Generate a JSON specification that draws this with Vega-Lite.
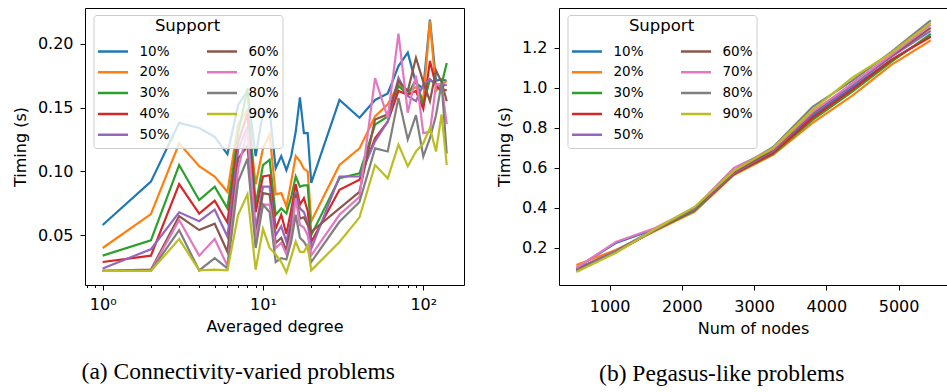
{
  "$schema": "https://vega.github.io/schema/vega-lite/v6.json",
  "padding": {"left": 11, "top": 7, "right": 0, "bottom": 0},
  "autosize": {"type": "pad"},
  "background": "white",
  "config": {
    "font": "DejaVu Sans",
    "view": {"stroke": "black", "strokeWidth": 1},
    "concat": {"spacing": 31},
    "axis": {"grid": false, "domain": false, "tickColor": "black", "tickSize": 5, "tickWidth": 1, "labelFontSize": 16, "labelColor": "black", "labelFont": "DejaVu Sans", "titleFont": "DejaVu Sans", "titleFontSize": 16, "titleFontWeight": "normal", "titleColor": "black", "labelPadding": 7, "titlePadding": 9, "labelFlush": false, "labelOverlap": false},
    "axisX": {"titlePadding": 6, "labelPadding": 8},
    "legend": {"orient": "none", "legendX": 8.5, "legendY": 7, "columns": 2, "symbolType": "stroke", "symbolSize": 900, "symbolStrokeWidth": 2.5, "clipHeight": 20, "rowPadding": 0.8, "columnPadding": 35, "labelOffset": 10, "labelFontSize": 13.5, "labelFont": "DejaVu Sans", "labelColor": "black", "titleFont": "DejaVu Sans", "titleFontSize": 16.5, "titleFontWeight": "normal", "titleColor": "black", "titleAnchor": "middle", "titlePadding": 7, "padding": 3, "fillColor": "rgba(255,255,255,0.8)", "strokeColor": "#cccccc", "cornerRadius": 3}
  },
  "resolve": {"scale": {"color": "independent"}, "legend": {"color": "independent"}},
  "datasets": {
    "a": [
      {"s":"10%","d":1,"t":0.058},{"s":"10%","d":2,"t":0.092},{"s":"10%","d":3,"t":0.138},{"s":"10%","d":4,"t":0.134},{"s":"10%","d":5,"t":0.127},{"s":"10%","d":6,"t":0.1135},{"s":"10%","d":7,"t":0.152},{"s":"10%","d":8,"t":0.163},{"s":"10%","d":9,"t":0.112},{"s":"10%","d":10,"t":0.146},{"s":"10%","d":11,"t":0.147},{"s":"10%","d":12,"t":0.1025},{"s":"10%","d":13,"t":0.112},{"s":"10%","d":14,"t":0.101},{"s":"10%","d":15,"t":0.112},{"s":"10%","d":16,"t":0.131},{"s":"10%","d":17,"t":0.158},{"s":"10%","d":18,"t":0.130},{"s":"10%","d":19,"t":0.130},{"s":"10%","d":20,"t":0.091},{"s":"10%","d":30,"t":0.156},{"s":"10%","d":40,"t":0.142},{"s":"10%","d":50,"t":0.156},{"s":"10%","d":60,"t":0.161},{"s":"10%","d":70,"t":0.1825},{"s":"10%","d":80,"t":0.193},{"s":"10%","d":90,"t":0.169},{"s":"10%","d":100,"t":0.165},{"s":"10%","d":110,"t":0.219},{"s":"10%","d":120,"t":0.171},{"s":"10%","d":130,"t":0.172},{"s":"10%","d":140,"t":0.171},
      {"s":"20%","d":1,"t":0.040},{"s":"20%","d":2,"t":0.0665},{"s":"20%","d":3,"t":0.122},{"s":"20%","d":4,"t":0.104},{"s":"20%","d":5,"t":0.096},{"s":"20%","d":6,"t":0.084},{"s":"20%","d":7,"t":0.137},{"s":"20%","d":8,"t":0.148},{"s":"20%","d":9,"t":0.090},{"s":"20%","d":10,"t":0.118},{"s":"20%","d":11,"t":0.129},{"s":"20%","d":12,"t":0.082},{"s":"20%","d":13,"t":0.083},{"s":"20%","d":14,"t":0.0725},{"s":"20%","d":15,"t":0.092},{"s":"20%","d":16,"t":0.112},{"s":"20%","d":17,"t":0.108},{"s":"20%","d":18,"t":0.102},{"s":"20%","d":19,"t":0.100},{"s":"20%","d":20,"t":0.061},{"s":"20%","d":30,"t":0.105},{"s":"20%","d":40,"t":0.118},{"s":"20%","d":50,"t":0.143},{"s":"20%","d":60,"t":0.1525},{"s":"20%","d":70,"t":0.168},{"s":"20%","d":80,"t":0.163},{"s":"20%","d":90,"t":0.166},{"s":"20%","d":100,"t":0.156},{"s":"20%","d":110,"t":0.218},{"s":"20%","d":120,"t":0.163},{"s":"20%","d":130,"t":0.168},{"s":"20%","d":140,"t":0.171},
      {"s":"30%","d":1,"t":0.034},{"s":"30%","d":2,"t":0.046},{"s":"30%","d":3,"t":0.105},{"s":"30%","d":4,"t":0.0776},{"s":"30%","d":5,"t":0.088},{"s":"30%","d":6,"t":0.071},{"s":"30%","d":7,"t":0.130},{"s":"30%","d":8,"t":0.165},{"s":"30%","d":9,"t":0.074},{"s":"30%","d":10,"t":0.105},{"s":"30%","d":11,"t":0.109},{"s":"30%","d":12,"t":0.066},{"s":"30%","d":13,"t":0.071},{"s":"30%","d":14,"t":0.067},{"s":"30%","d":15,"t":0.080},{"s":"30%","d":16,"t":0.096},{"s":"30%","d":17,"t":0.088},{"s":"30%","d":18,"t":0.089},{"s":"30%","d":19,"t":0.089},{"s":"30%","d":20,"t":0.050},{"s":"30%","d":30,"t":0.0946},{"s":"30%","d":40,"t":0.0985},{"s":"30%","d":50,"t":0.1366},{"s":"30%","d":60,"t":0.143},{"s":"30%","d":70,"t":0.167},{"s":"30%","d":80,"t":0.160},{"s":"30%","d":90,"t":0.172},{"s":"30%","d":100,"t":0.152},{"s":"30%","d":110,"t":0.172},{"s":"30%","d":120,"t":0.168},{"s":"30%","d":130,"t":0.168},{"s":"30%","d":140,"t":0.185},
      {"s":"40%","d":1,"t":0.029},{"s":"40%","d":2,"t":0.034},{"s":"40%","d":3,"t":0.090},{"s":"40%","d":4,"t":0.067},{"s":"40%","d":5,"t":0.077},{"s":"40%","d":6,"t":0.060},{"s":"40%","d":7,"t":0.123},{"s":"40%","d":8,"t":0.145},{"s":"40%","d":9,"t":0.068},{"s":"40%","d":10,"t":0.096},{"s":"40%","d":11,"t":0.097},{"s":"40%","d":12,"t":0.055},{"s":"40%","d":13,"t":0.066},{"s":"40%","d":14,"t":0.051},{"s":"40%","d":15,"t":0.070},{"s":"40%","d":16,"t":0.090},{"s":"40%","d":17,"t":0.074},{"s":"40%","d":18,"t":0.079},{"s":"40%","d":19,"t":0.069},{"s":"40%","d":20,"t":0.0447},{"s":"40%","d":30,"t":0.0856},{"s":"40%","d":40,"t":0.0934},{"s":"40%","d":50,"t":0.126},{"s":"40%","d":60,"t":0.139},{"s":"40%","d":70,"t":0.163},{"s":"40%","d":80,"t":0.160},{"s":"40%","d":90,"t":0.163},{"s":"40%","d":100,"t":0.149},{"s":"40%","d":110,"t":0.1865},{"s":"40%","d":120,"t":0.167},{"s":"40%","d":130,"t":0.163},{"s":"40%","d":140,"t":0.164},
      {"s":"50%","d":1,"t":0.024},{"s":"50%","d":2,"t":0.039},{"s":"50%","d":3,"t":0.068},{"s":"50%","d":4,"t":0.061},{"s":"50%","d":5,"t":0.070},{"s":"50%","d":6,"t":0.049},{"s":"50%","d":7,"t":0.117},{"s":"50%","d":8,"t":0.135},{"s":"50%","d":9,"t":0.055},{"s":"50%","d":10,"t":0.088},{"s":"50%","d":11,"t":0.088},{"s":"50%","d":12,"t":0.050},{"s":"50%","d":13,"t":0.057},{"s":"50%","d":14,"t":0.045},{"s":"50%","d":15,"t":0.062},{"s":"50%","d":16,"t":0.084},{"s":"50%","d":17,"t":0.071},{"s":"50%","d":18,"t":0.068},{"s":"50%","d":19,"t":0.060},{"s":"50%","d":20,"t":0.0395},{"s":"50%","d":30,"t":0.096},{"s":"50%","d":40,"t":0.096},{"s":"50%","d":50,"t":0.1235},{"s":"50%","d":60,"t":0.139},{"s":"50%","d":70,"t":0.1733},{"s":"50%","d":80,"t":0.159},{"s":"50%","d":90,"t":0.155},{"s":"50%","d":100,"t":0.168},{"s":"50%","d":110,"t":0.172},{"s":"50%","d":120,"t":0.168},{"s":"50%","d":130,"t":0.167},{"s":"50%","d":140,"t":0.168},
      {"s":"60%","d":1,"t":0.022},{"s":"60%","d":2,"t":0.023},{"s":"60%","d":3,"t":0.065},{"s":"60%","d":4,"t":0.054},{"s":"60%","d":5,"t":0.059},{"s":"60%","d":6,"t":0.037},{"s":"60%","d":7,"t":0.110},{"s":"60%","d":8,"t":0.120},{"s":"60%","d":9,"t":0.050},{"s":"60%","d":10,"t":0.083},{"s":"60%","d":11,"t":0.082},{"s":"60%","d":12,"t":0.044},{"s":"60%","d":13,"t":0.048},{"s":"60%","d":14,"t":0.038},{"s":"60%","d":15,"t":0.058},{"s":"60%","d":16,"t":0.082},{"s":"60%","d":17,"t":0.063},{"s":"60%","d":18,"t":0.064},{"s":"60%","d":19,"t":0.058},{"s":"60%","d":20,"t":0.0526},{"s":"60%","d":30,"t":0.071},{"s":"60%","d":40,"t":0.084},{"s":"60%","d":50,"t":0.1407},{"s":"60%","d":60,"t":0.1447},{"s":"60%","d":70,"t":0.1707},{"s":"60%","d":80,"t":0.163},{"s":"60%","d":90,"t":0.189},{"s":"60%","d":100,"t":0.170},{"s":"60%","d":110,"t":0.155},{"s":"60%","d":120,"t":0.179},{"s":"60%","d":130,"t":0.170},{"s":"60%","d":140,"t":0.155},
      {"s":"70%","d":1,"t":0.022},{"s":"70%","d":2,"t":0.022},{"s":"70%","d":3,"t":0.062},{"s":"70%","d":4,"t":0.034},{"s":"70%","d":5,"t":0.047},{"s":"70%","d":6,"t":0.026},{"s":"70%","d":7,"t":0.102},{"s":"70%","d":8,"t":0.132},{"s":"70%","d":9,"t":0.048},{"s":"70%","d":10,"t":0.074},{"s":"70%","d":11,"t":0.074},{"s":"70%","d":12,"t":0.040},{"s":"70%","d":13,"t":0.044},{"s":"70%","d":14,"t":0.035},{"s":"70%","d":15,"t":0.050},{"s":"70%","d":16,"t":0.079},{"s":"70%","d":17,"t":0.058},{"s":"70%","d":18,"t":0.056},{"s":"70%","d":19,"t":0.050},{"s":"70%","d":20,"t":0.0343},{"s":"70%","d":30,"t":0.066},{"s":"70%","d":40,"t":0.080},{"s":"70%","d":50,"t":0.173},{"s":"70%","d":60,"t":0.142},{"s":"70%","d":70,"t":0.208},{"s":"70%","d":80,"t":0.146},{"s":"70%","d":90,"t":0.175},{"s":"70%","d":100,"t":0.130},{"s":"70%","d":110,"t":0.131},{"s":"70%","d":120,"t":0.168},{"s":"70%","d":130,"t":0.168},{"s":"70%","d":140,"t":0.137},
      {"s":"80%","d":1,"t":0.022},{"s":"80%","d":2,"t":0.022},{"s":"80%","d":3,"t":0.054},{"s":"80%","d":4,"t":0.0224},{"s":"80%","d":5,"t":0.032},{"s":"80%","d":6,"t":0.024},{"s":"80%","d":7,"t":0.092},{"s":"80%","d":8,"t":0.110},{"s":"80%","d":9,"t":0.040},{"s":"80%","d":10,"t":0.074},{"s":"80%","d":11,"t":0.068},{"s":"80%","d":12,"t":0.029},{"s":"80%","d":13,"t":0.032},{"s":"80%","d":14,"t":0.031},{"s":"80%","d":15,"t":0.045},{"s":"80%","d":16,"t":0.066},{"s":"80%","d":17,"t":0.048},{"s":"80%","d":18,"t":0.045},{"s":"80%","d":19,"t":0.040},{"s":"80%","d":20,"t":0.029},{"s":"80%","d":30,"t":0.0605},{"s":"80%","d":40,"t":0.076},{"s":"80%","d":50,"t":0.118},{"s":"80%","d":60,"t":0.1156},{"s":"80%","d":70,"t":0.1576},{"s":"80%","d":80,"t":0.125},{"s":"80%","d":90,"t":0.144},{"s":"80%","d":100,"t":0.1117},{"s":"80%","d":110,"t":0.126},{"s":"80%","d":120,"t":0.144},{"s":"80%","d":130,"t":0.169},{"s":"80%","d":140,"t":0.114},
      {"s":"90%","d":1,"t":0.022},{"s":"90%","d":2,"t":0.022},{"s":"90%","d":3,"t":0.047},{"s":"90%","d":4,"t":0.0224},{"s":"90%","d":5,"t":0.023},{"s":"90%","d":6,"t":0.0224},{"s":"90%","d":7,"t":0.066},{"s":"90%","d":8,"t":0.082},{"s":"90%","d":9,"t":0.023},{"s":"90%","d":10,"t":0.055},{"s":"90%","d":11,"t":0.040},{"s":"90%","d":12,"t":0.035},{"s":"90%","d":13,"t":0.029},{"s":"90%","d":14,"t":0.021},{"s":"90%","d":15,"t":0.033},{"s":"90%","d":16,"t":0.045},{"s":"90%","d":17,"t":0.037},{"s":"90%","d":18,"t":0.037},{"s":"90%","d":19,"t":0.042},{"s":"90%","d":20,"t":0.0225},{"s":"90%","d":30,"t":0.0447},{"s":"90%","d":40,"t":0.064},{"s":"90%","d":50,"t":0.105},{"s":"90%","d":60,"t":0.0946},{"s":"90%","d":70,"t":0.121},{"s":"90%","d":80,"t":0.104},{"s":"90%","d":90,"t":0.1156},{"s":"90%","d":100,"t":0.122},{"s":"90%","d":110,"t":0.134},{"s":"90%","d":120,"t":0.1156},{"s":"90%","d":130,"t":0.1447},{"s":"90%","d":140,"t":0.105}
    ],
    "b": [
      {"s":"10%","n":540,"t":0.10},{"s":"10%","n":1085,"t":0.225},{"s":"10%","n":1630,"t":0.295},{"s":"10%","n":2175,"t":0.39},{"s":"10%","n":2720,"t":0.58},{"s":"10%","n":3265,"t":0.68},{"s":"10%","n":3810,"t":0.86},{"s":"10%","n":4355,"t":1.00},{"s":"10%","n":4900,"t":1.14},{"s":"10%","n":5445,"t":1.26},
      {"s":"20%","n":540,"t":0.115},{"s":"20%","n":1085,"t":0.19},{"s":"20%","n":1630,"t":0.285},{"s":"20%","n":2175,"t":0.38},{"s":"20%","n":2720,"t":0.565},{"s":"20%","n":3265,"t":0.665},{"s":"20%","n":3810,"t":0.825},{"s":"20%","n":4355,"t":0.96},{"s":"20%","n":4900,"t":1.115},{"s":"20%","n":5445,"t":1.237},
      {"s":"30%","n":540,"t":0.09},{"s":"30%","n":1085,"t":0.18},{"s":"30%","n":1630,"t":0.29},{"s":"30%","n":2175,"t":0.385},{"s":"30%","n":2720,"t":0.57},{"s":"30%","n":3265,"t":0.67},{"s":"30%","n":3810,"t":0.84},{"s":"30%","n":4355,"t":0.98},{"s":"30%","n":4900,"t":1.13},{"s":"30%","n":5445,"t":1.27},
      {"s":"40%","n":540,"t":0.095},{"s":"40%","n":1085,"t":0.18},{"s":"40%","n":1630,"t":0.29},{"s":"40%","n":2175,"t":0.39},{"s":"40%","n":2720,"t":0.57},{"s":"40%","n":3265,"t":0.675},{"s":"40%","n":3810,"t":0.85},{"s":"40%","n":4355,"t":0.99},{"s":"40%","n":4900,"t":1.14},{"s":"40%","n":5445,"t":1.255},
      {"s":"50%","n":540,"t":0.095},{"s":"50%","n":1085,"t":0.185},{"s":"50%","n":1630,"t":0.295},{"s":"50%","n":2175,"t":0.39},{"s":"50%","n":2720,"t":0.575},{"s":"50%","n":3265,"t":0.685},{"s":"50%","n":3810,"t":0.87},{"s":"50%","n":4355,"t":1.01},{"s":"50%","n":4900,"t":1.155},{"s":"50%","n":5445,"t":1.285},
      {"s":"60%","n":540,"t":0.09},{"s":"60%","n":1085,"t":0.18},{"s":"60%","n":1630,"t":0.29},{"s":"60%","n":2175,"t":0.395},{"s":"60%","n":2720,"t":0.58},{"s":"60%","n":3265,"t":0.69},{"s":"60%","n":3810,"t":0.875},{"s":"60%","n":4355,"t":1.02},{"s":"60%","n":4900,"t":1.16},{"s":"60%","n":5445,"t":1.30},
      {"s":"70%","n":540,"t":0.10},{"s":"70%","n":1085,"t":0.23},{"s":"70%","n":1630,"t":0.30},{"s":"70%","n":2175,"t":0.40},{"s":"70%","n":2720,"t":0.60},{"s":"70%","n":3265,"t":0.695},{"s":"70%","n":3810,"t":0.88},{"s":"70%","n":4355,"t":1.02},{"s":"70%","n":4900,"t":1.165},{"s":"70%","n":5445,"t":1.315},
      {"s":"80%","n":540,"t":0.085},{"s":"80%","n":1085,"t":0.18},{"s":"80%","n":1630,"t":0.29},{"s":"80%","n":2175,"t":0.40},{"s":"80%","n":2720,"t":0.585},{"s":"80%","n":3265,"t":0.705},{"s":"80%","n":3810,"t":0.905},{"s":"80%","n":4355,"t":1.035},{"s":"80%","n":4900,"t":1.18},{"s":"80%","n":5445,"t":1.337},
      {"s":"90%","n":540,"t":0.08},{"s":"90%","n":1085,"t":0.175},{"s":"90%","n":1630,"t":0.295},{"s":"90%","n":2175,"t":0.405},{"s":"90%","n":2720,"t":0.585},{"s":"90%","n":3265,"t":0.70},{"s":"90%","n":3810,"t":0.89},{"s":"90%","n":4355,"t":1.05},{"s":"90%","n":4900,"t":1.175},{"s":"90%","n":5445,"t":1.325}
    ]
  },
  "hconcat": [
    {
      "width": 379,
      "height": 277,
      "title": {"text": "(a) Connectivity-varied problems", "orient": "bottom", "frame": "bounds", "anchor": "middle", "font": "Liberation Serif", "fontSize": 23.5, "fontWeight": "normal", "color": "black", "offset": 26},
      "data": {"name": "a"},
      "mark": {"type": "line", "strokeWidth": 2.2, "clip": true},
      "encoding": {
        "x": {"field": "d", "type": "quantitative", "scale": {"type": "log", "domain": [0.776, 179.4], "nice": false},
          "axis": {"title": "Averaged degree", "labelPadding": 6, "values": [0.8, 0.9, 1, 2, 3, 4, 5, 6, 7, 8, 9, 10, 20, 30, 40, 50, 60, 70, 80, 90, 100],
            "labelExpr": "datum.value == 1 ? '10⁰' : datum.value == 10 ? '10¹' : datum.value == 100 ? '10²' : ''",
            "tickSize": {"condition": {"test": "datum.value == 1 || datum.value == 10 || datum.value == 100", "value": 5}, "value": 2.5}}},
        "y": {"field": "t", "type": "quantitative", "scale": {"domain": [0.011, 0.228], "nice": false, "zero": false},
          "axis": {"title": "Timing (s)", "values": [0.05, 0.1, 0.15, 0.2], "format": ".2f"}},
        "color": {"field": "s", "type": "nominal",
          "scale": {"domain": ["10%", "20%", "30%", "40%", "50%", "60%", "70%", "80%", "90%"], "range": ["#1f77b4", "#ff7f0e", "#2ca02c", "#d62728", "#9467bd", "#8c564b", "#e377c2", "#7f7f7f", "#bcbd22"]},
          "legend": {"title": "Support"}}
      }
    },
    {
      "width": 388,
      "height": 277,
      "title": {"text": "(b) Pegasus-like problems", "orient": "bottom", "frame": "bounds", "anchor": "middle", "font": "Liberation Serif", "fontSize": 23.5, "fontWeight": "normal", "color": "black", "offset": 26},
      "data": {"name": "b"},
      "mark": {"type": "line", "strokeWidth": 2.2, "clip": true},
      "encoding": {
        "x": {"field": "n", "type": "quantitative", "scale": {"domain": [300, 5670], "nice": false, "zero": false},
          "axis": {"title": "Num of nodes", "values": [1000, 2000, 3000, 4000, 5000], "format": "d"}},
        "y": {"field": "t", "type": "quantitative", "scale": {"domain": [0.015, 1.399], "nice": false, "zero": false},
          "axis": {"title": "Timing (s)", "values": [0.2, 0.4, 0.6, 0.8, 1.0, 1.2], "format": ".1f"}},
        "color": {"field": "s", "type": "nominal",
          "scale": {"domain": ["10%", "20%", "30%", "40%", "50%", "60%", "70%", "80%", "90%"], "range": ["#1f77b4", "#ff7f0e", "#2ca02c", "#d62728", "#9467bd", "#8c564b", "#e377c2", "#7f7f7f", "#bcbd22"]},
          "legend": {"title": "Support"}}
      }
    }
  ]
}
